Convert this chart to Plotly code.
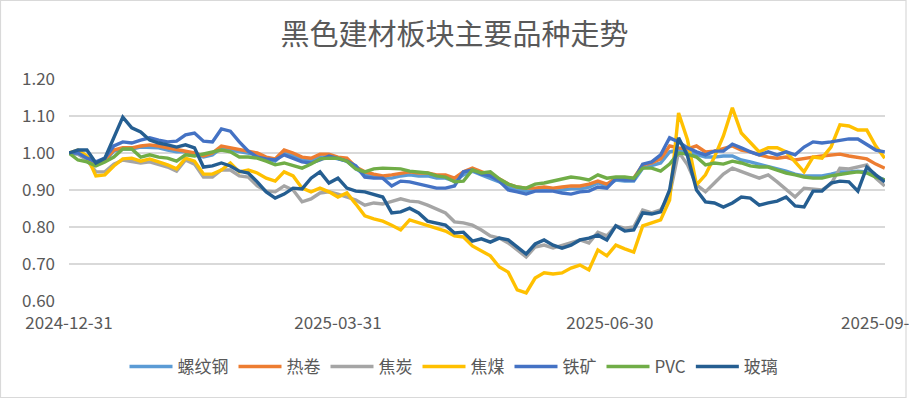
import pandas as pd
import plotly.graph_objects as go

# dates: every 3 days from 2024-12-31 to 2025-09-30
dates = pd.date_range("2024-12-31", periods=92, freq="3D")

series_names = ["螺纹钢", "热卷", "焦炭", "焦煤", "铁矿", "PVC", "玻璃"]

rebar = [1.000, 0.997, 0.986, 0.968, 0.978, 1.005, 1.011, 1.011, 1.016, 1.016,
         1.014, 1.008, 1.003, 1.003, 0.997, 0.989, 0.995, 1.014, 1.008, 1.003,
         1.000, 0.995, 0.984, 0.978, 1.000, 0.992, 0.981, 0.981, 0.989, 0.989,
         0.984, 0.978, 0.957, 0.943, 0.938, 0.932, 0.932, 0.938, 0.941, 0.938,
         0.938, 0.932, 0.932, 0.924, 0.941, 0.951, 0.941, 0.932, 0.922, 0.908,
         0.900, 0.897, 0.900, 0.900, 0.900, 0.900, 0.903, 0.903, 0.908, 0.919,
         0.911, 0.927, 0.924, 0.924, 0.959, 0.965, 0.973, 1.003, 1.008, 1.003,
         0.995, 0.989, 0.989, 0.992, 0.992, 0.981, 0.976, 0.970, 0.965, 0.959,
         0.951, 0.943, 0.938, 0.938, 0.938, 0.943, 0.949, 0.949, 0.951, 0.949,
         0.938, 0.927]

hot_coil = [1.000, 1.000, 0.989, 0.973, 0.981, 1.008, 1.014, 1.014, 1.019, 1.022,
            1.019, 1.014, 1.008, 1.005, 1.000, 0.992, 1.000, 1.019, 1.014, 1.008,
            1.005, 1.000, 0.989, 0.984, 1.008, 1.000, 0.989, 0.986, 0.997, 0.997,
            0.989, 0.986, 0.962, 0.949, 0.943, 0.938, 0.941, 0.946, 0.949, 0.946,
            0.946, 0.941, 0.941, 0.932, 0.949, 0.959, 0.949, 0.941, 0.930, 0.916,
            0.908, 0.905, 0.905, 0.908, 0.905, 0.908, 0.911, 0.911, 0.916, 0.924,
            0.916, 0.932, 0.932, 0.932, 0.968, 0.973, 0.984, 1.019, 1.014, 1.011,
            1.019, 1.003, 1.005, 1.011, 1.019, 1.008, 1.003, 0.995, 0.989, 0.986,
            0.989, 0.981, 0.986, 0.989, 0.992, 0.995, 0.997, 0.992, 0.989, 0.984,
            0.970, 0.959]

coke = [1.000, 0.997, 0.981, 0.949, 0.949, 0.970, 0.981, 0.976, 0.973, 0.976,
        0.970, 0.962, 0.951, 0.981, 0.970, 0.935, 0.935, 0.954, 0.954, 0.938,
        0.935, 0.911, 0.897, 0.895, 0.911, 0.900, 0.868, 0.876, 0.892, 0.895,
        0.889, 0.881, 0.873, 0.859, 0.865, 0.862, 0.868, 0.876, 0.870, 0.868,
        0.859, 0.849, 0.838, 0.814, 0.811, 0.805, 0.792, 0.776, 0.770, 0.757,
        0.738, 0.719, 0.746, 0.751, 0.743, 0.751, 0.759, 0.765, 0.757, 0.786,
        0.776, 0.803, 0.797, 0.800, 0.846, 0.838, 0.846, 0.886, 1.003, 0.968,
        0.914, 0.895, 0.919, 0.943, 0.959, 0.951, 0.941, 0.932, 0.941, 0.922,
        0.900, 0.881, 0.905, 0.903, 0.900, 0.916, 0.959, 0.957, 0.962, 0.968,
        0.932, 0.911]

coking_coal = [1.000, 1.008, 0.992, 0.938, 0.941, 0.965, 0.984, 0.986, 0.978, 0.984,
               0.976, 0.968, 0.957, 0.986, 0.978, 0.943, 0.943, 0.954, 0.973, 0.949,
               0.954, 0.946, 0.932, 0.924, 0.949, 0.938, 0.905, 0.895, 0.905, 0.895,
               0.881, 0.892, 0.862, 0.830, 0.822, 0.816, 0.805, 0.792, 0.819, 0.811,
               0.805, 0.797, 0.789, 0.776, 0.773, 0.749, 0.735, 0.722, 0.692, 0.678,
               0.630, 0.622, 0.662, 0.676, 0.673, 0.676, 0.689, 0.697, 0.684, 0.738,
               0.722, 0.751, 0.741, 0.732, 0.803, 0.811, 0.819, 0.873, 1.108, 1.035,
               0.914, 0.941, 0.989, 1.046, 1.122, 1.054, 1.030, 1.003, 1.014, 1.014,
               1.003, 0.976, 0.949, 0.989, 0.986, 1.016, 1.076, 1.073, 1.062, 1.062,
               1.019, 0.986]

iron_ore = [1.000, 1.000, 0.986, 0.976, 0.986, 1.019, 1.030, 1.027, 1.035, 1.041,
            1.035, 1.030, 1.032, 1.049, 1.054, 1.032, 1.030, 1.065, 1.059, 1.030,
            1.005, 0.989, 0.984, 0.981, 0.995, 0.986, 0.976, 0.973, 0.981, 0.992,
            0.986, 0.978, 0.965, 0.935, 0.932, 0.932, 0.911, 0.924, 0.922, 0.916,
            0.911, 0.905, 0.905, 0.911, 0.949, 0.954, 0.943, 0.938, 0.924, 0.900,
            0.895, 0.889, 0.897, 0.897, 0.897, 0.892, 0.889, 0.895, 0.897, 0.908,
            0.905, 0.930, 0.927, 0.927, 0.970, 0.976, 0.995, 1.041, 1.030, 1.014,
            1.003, 0.995, 1.005, 1.005, 1.024, 1.014, 1.003, 0.995, 1.003, 0.995,
            1.003, 0.995, 1.016, 1.030, 1.027, 1.030, 1.035, 1.038, 1.038, 1.022,
            1.008, 1.003]

pvc = [1.000, 0.981, 0.976, 0.965, 0.976, 0.989, 1.011, 1.011, 0.989, 0.995,
       0.989, 0.986, 0.978, 0.995, 0.992, 0.997, 1.003, 1.008, 1.003, 0.989,
       0.989, 0.986, 0.978, 0.968, 0.973, 0.965, 0.959, 0.970, 0.984, 0.986,
       0.986, 0.978, 0.957, 0.949, 0.957, 0.959, 0.959, 0.957, 0.951, 0.949,
       0.946, 0.938, 0.935, 0.922, 0.924, 0.954, 0.946, 0.949, 0.930, 0.916,
       0.908, 0.905, 0.916, 0.919, 0.924, 0.930, 0.935, 0.932, 0.927, 0.941,
       0.932, 0.935, 0.935, 0.932, 0.959, 0.959, 0.951, 0.970, 1.000, 0.997,
       0.989, 0.968, 0.973, 0.970, 0.978, 0.973, 0.965, 0.962, 0.962, 0.954,
       0.946, 0.941, 0.935, 0.932, 0.932, 0.938, 0.943, 0.946, 0.949, 0.946,
       0.935, 0.927]

glass = [1.000, 1.008, 1.008, 0.973, 0.986, 1.043, 1.097, 1.068, 1.057, 1.035,
         1.027, 1.022, 1.016, 1.022, 1.014, 0.962, 0.965, 0.973, 0.965, 0.951,
         0.946, 0.922, 0.895, 0.878, 0.889, 0.905, 0.903, 0.932, 0.949, 0.919,
         0.932, 0.905, 0.897, 0.895, 0.889, 0.881, 0.838, 0.841, 0.851, 0.838,
         0.816, 0.811, 0.805, 0.784, 0.786, 0.762, 0.768, 0.759, 0.770, 0.765,
         0.746, 0.727, 0.754, 0.765, 0.751, 0.743, 0.751, 0.765, 0.770, 0.778,
         0.765, 0.803, 0.789, 0.792, 0.838, 0.835, 0.841, 0.900, 1.041, 0.992,
         0.900, 0.868, 0.865, 0.854, 0.865, 0.881, 0.878, 0.859, 0.865, 0.870,
         0.881, 0.857, 0.854, 0.897, 0.897, 0.919, 0.924, 0.922, 0.897, 0.962,
         0.941, 0.922]

colors = ["#5B9BD5", "#ED7D31", "#A5A5A5", "#FFC000", "#4472C4", "#70AD47", "#255E91"]
all_values = [rebar, hot_coil, coke, coking_coal, iron_ore, pvc, glass]

tick_dates = ["2024-12-31", "2025-03-31", "2025-06-30", "2025-09-30"]
y_ticks = [0.60, 0.70, 0.80, 0.90, 1.00, 1.10, 1.20]

FONT = "Noto Sans CJK SC, Noto Sans, sans-serif"
W, H = 909, 399
ML, MR, MT, MB = 69, 24, 79, 98
PW, PH = W - ML - MR, H - MT - MB

fig = go.Figure()
for name, vals, col in zip(series_names, all_values, colors):
    fig.add_trace(go.Scatter(x=dates, y=vals, name=name, mode="lines",
                             line=dict(color=col, width=3.4)))

def px_to_paper_x(p):
    return (p - ML) / PW

def px_to_paper_y(p):
    return (H - MB - p) / PH

fig.update_layout(
    width=W, height=H,
    margin=dict(l=ML, r=MR, t=MT, b=MB, autoexpand=False),
    paper_bgcolor="white", plot_bgcolor="white",
    font=dict(family=FONT, color="#595959", size=17),
    title=dict(text="黑色建材板块主要品种走势", x=0.5, xanchor="center",
               y=1 - 35 / H, yanchor="middle",
               font=dict(size=29, color="#595959", family=FONT)),
    showlegend=True,
    legend=dict(orientation="h", x=px_to_paper_x(454), xanchor="center",
                y=px_to_paper_y(367), yanchor="middle",
                font=dict(size=17, color="#595959", family=FONT),
                itemwidth=43, traceorder="normal"),
    xaxis=dict(type="date", range=["2024-12-31", "2025-09-30 02:00"],
               tickmode="array", tickvals=tick_dates, ticktext=tick_dates,
               showgrid=False, zeroline=False, showline=False, ticks="",
               automargin=False, ticklabeloverflow="allow",
               ticklabelstandoff=10,
               tickfont=dict(size=17, color="#595959", family=FONT)),
    yaxis=dict(range=[0.6, 1.2], tickmode="array", tickvals=y_ticks,
               ticktext=[f"{v:.2f}" for v in y_ticks],
               showgrid=True, gridcolor="#D9D9D9", gridwidth=1.5,
               zeroline=False, showline=False, ticks="", automargin=False,
               ticklabelstandoff=13,
               tickfont=dict(size=17, color="#595959", family=FONT)),
    shapes=[dict(type="rect", xref="paper", yref="paper",
                 x0=px_to_paper_x(0.5), x1=px_to_paper_x(906),
                 y0=px_to_paper_y(397.5), y1=px_to_paper_y(0.5),
                 line=dict(color="#D9D9D9", width=1.2), fillcolor="rgba(0,0,0,0)",
                 layer="below")],
)

fig.write_html("out.html",
               config={"displayModeBar": False},
               post_script="document.body.style.margin='0';document.body.style.overflow='hidden';")
